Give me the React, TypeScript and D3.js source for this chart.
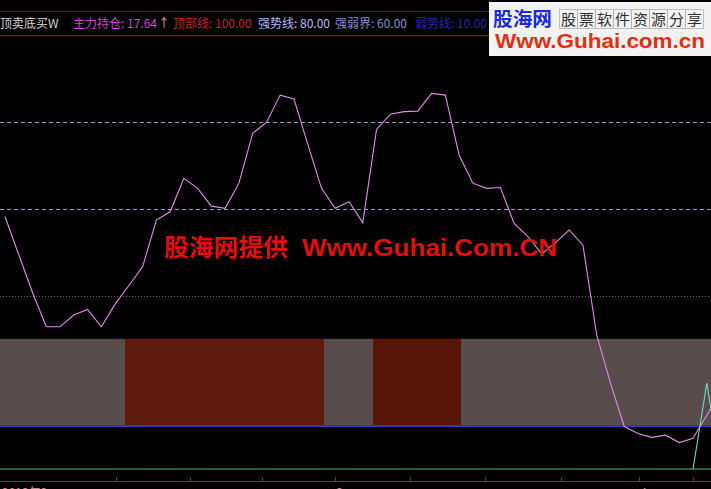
import React from "react";
import * as d3 from "d3";

const W = 711;
const H = 489;

// 主力持仓 series (per bar)
const mainValues = [
  58.2, 49.4, 40.7, 32.8, 32.8, 35.5, 36.8, 32.8, 38.0, 42.3,
  46.6, 57.4, 59.3, 67.0, 64.7, 60.6, 60.1, 65.9, 77.4, 79.9,
  86.2, 85.3, 74.9, 64.7, 60.1, 61.6, 56.8, 78.3, 81.8, 82.4,
  82.5, 86.6, 86.2, 72.4, 65.9, 64.7, 64.9, 56.6, 53.6, 49.6,
  52.2, 55.1, 51.6, 30.9, 19.8, 9.8, 8.2, 7.3, 7.8, 6.1,
  7.1, 12.4, 17.64,
];
// signal spike series (bar index, value)
const spikeIdx = [50, 51, 52];
const spikeValues = [0, 19.8, 0];

// reference levels
const topLevel = 100;
const strongLevel = 80;
const midLevel = 60;
const lowDotLevel = 40;
const weakLevel = 10;
const bandTop = 30;
const zeroLevel = 0;

// red zones inside band (bar index ranges)
const redStart = [8.72, 26.75];
const redEnd = [23.18, 33.14];

// time axis
const tickIdx = [8.1, 13.45, 18.7, 24, 29.4, 34.9, 40.4, 46.1, 50];
const tickLabelIdx = [24, 46.1];
const tickLabels = ["3", "4"];
const firstLabel = "2013年2";

const headerItems = [
  { text: "顶卖底买W", color: "#d8d8d8", x: 0 },
  { text: "主力持仓: 17.64", color: "#cc4ccc", x: 73 },
  { text: "↑", color: "#f0a898", x: 158 },
  { text: "顶部线: 100.00", color: "#c02828", x: 173 },
  { text: "强势线: 80.00", color: "#b8b8f8", x: 258 },
  { text: "强弱界: 60.00", color: "#8890d0", x: 335 },
  { text: "弱势线: 10.00", color: "#2828a8", x: 415 },
];

const boxChars = ["股", "票", "软", "件", "资", "源", "分", "享"];

export default function App() {
  const x = d3.scaleLinear().domain([0, 51]).range([5, 706.8]);
  const y = d3.scaleLinear().domain([0, 100]).range([469, 35.25]);

  const line = d3
    .line<number>()
    .x((_, i) => x(i))
    .y((d) => y(d));
  const spikeLine = d3
    .line<number>()
    .x((_, i) => x(spikeIdx[i]))
    .y((d) => y(d));

  const font = "'Noto Sans CJK SC', 'Noto Sans', sans-serif";

  return (
    <div style={{ position: "fixed", left: 0, top: 0 }}>
      <svg width={W} height={H} style={{ display: "block", background: "#000" }}>
        <defs>
          <clipPath id="plot">
            <rect x={0} y={0} width={W} height={H} />
          </clipPath>
        </defs>
        <rect x={0} y={0} width={W} height={H} fill="#000" />

        {/* band */}
        <rect x={0} y={y(bandTop)} width={W} height={y(weakLevel) - y(bandTop)} fill="#594c4c" />
        {redStart.map((s, i) => (
          <rect
            key={i}
            x={x(s)}
            y={y(bandTop)}
            width={x(redEnd[i]) - x(s)}
            height={y(weakLevel) - y(bandTop)}
            fill={i === 0 ? "#5e1a0c" : "#581608"}
          />
        ))}
        <line x1={0} x2={W} y1={y(weakLevel) + 0.5} y2={y(weakLevel) + 0.5} stroke="#3a3ac0" strokeWidth={1.6} />

        {/* reference lines */}
        <line x1={0} x2={W} y1={11.5} y2={11.5} stroke="#6a1414" strokeWidth={1} />
        <line x1={0} x2={W} y1={y(topLevel) + 0.5} y2={y(topLevel) + 0.5} stroke="#b02020" strokeWidth={1} />
        <line x1={0} x2={W} y1={Math.round(y(strongLevel)) + 0.5} y2={Math.round(y(strongLevel)) + 0.5} stroke="#9c9ccc" strokeWidth={1} strokeDasharray="4,3" />
        <line x1={0} x2={W} y1={Math.round(y(midLevel)) + 0.5} y2={Math.round(y(midLevel)) + 0.5} stroke="#9c9ccc" strokeWidth={1} strokeDasharray="4,3" />
        <line x1={0} x2={W} y1={Math.round(y(lowDotLevel)) + 0.5} y2={Math.round(y(lowDotLevel)) + 0.5} stroke="#8a6060" strokeWidth={1} strokeDasharray="1,2" />
        <line x1={0} x2={W} y1={y(zeroLevel)} y2={y(zeroLevel)} stroke="#5cb85c" strokeWidth={1.2} />

        {/* series */}
        <g clipPath="url(#plot)">
          <path d={line(mainValues) || ""} fill="none" stroke="#e08ce8" strokeWidth={1.1} />
          <path d={spikeLine(spikeValues) || ""} fill="none" stroke="#6cd8c8" strokeWidth={1.1} />
        </g>

        {/* bottom axis */}
        <line x1={0} x2={W} y1={481.5} y2={481.5} stroke="#a02020" strokeWidth={1} />
        {tickIdx.map((t, i) => (
          <line key={i} x1={Math.round(x(t)) + 0.5} x2={Math.round(x(t)) + 0.5} y1={477} y2={481} stroke="#a02020" />
        ))}
        <text x={2} y={497} fontFamily={font} fontSize={12} fill="#c08888">{firstLabel}</text>
        {tickLabelIdx.map((t, i) => (
          <text key={i} x={x(t) + 1} y={497} fontFamily={font} fontSize={12} fill="#c08888">{tickLabels[i]}</text>
        ))}

        {/* header */}
        {headerItems.map((h, i) => (
          <text key={i} x={h.x} y={28} fontFamily={font} fontSize={12} fill={h.color}>{h.text}</text>
        ))}

        {/* center watermark */}
        <text x={164} y={256} fontFamily={font} fontSize={24} fontWeight="bold" fill="#e01010" textLength={124} lengthAdjust="spacingAndGlyphs">股海网提供</text>
        <text x={302} y={256} fontFamily="'Liberation Sans', 'DejaVu Sans', sans-serif" fontSize={24} fontWeight="bold" fill="#e01010" textLength={255} lengthAdjust="spacingAndGlyphs">Www.Guhai.Com.CN</text>

        {/* logo box */}
        <rect x={489} y={2} width={W - 489} height={54} fill="#f3f3f3" />
        <text x={493} y={26} fontFamily={font} fontSize={19} fontWeight="bold" fill="#1a2ad8" textLength={59} lengthAdjust="spacingAndGlyphs">股海网</text>
        {boxChars.map((c, i) => (
          <g key={i}>
            <rect x={559 + i * 18 + 0.5} y={9.5} width={18} height={19} fill="none" stroke="#b0b0b0" strokeWidth={0.8} />
            <text x={559 + i * 18 + 9.5} y={25} textAnchor="middle" fontFamily={font} fontSize={15} fill="#303030">{c}</text>
          </g>
        ))}
        <text x={495} y={48} fontFamily="'Liberation Sans', 'DejaVu Sans', sans-serif" fontSize={20} fontWeight="bold" fill="#e03010" textLength={210} lengthAdjust="spacingAndGlyphs">Www.Guhai.com.cn</text>
      </svg>
    </div>
  );
}
